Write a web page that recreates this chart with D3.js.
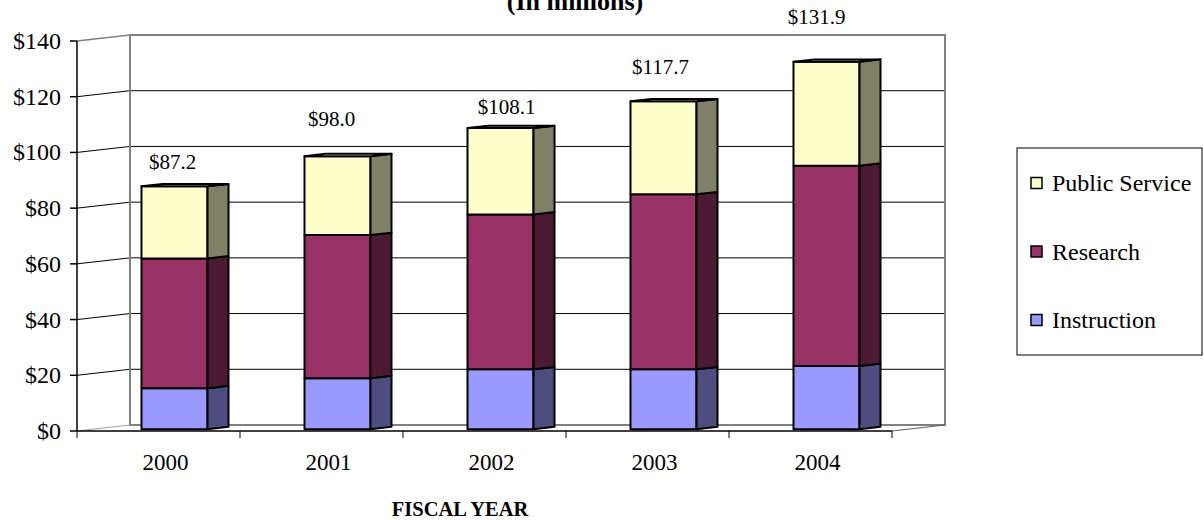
<!DOCTYPE html>
<html>
<head>
<meta charset="utf-8">
<script src="https://cdn.jsdelivr.net/npm/d3@7"></script>
<style>
  body { margin: 0; background: #fff; }
  text { font-family: "Liberation Serif", "Times New Roman", serif; fill: #000; }
</style>
</head>
<body>
<svg id="chart" width="1204" height="520"></svg>
<script>
// values (in millions)
const years = ["2000", "2001", "2002", "2003", "2004"]
const instruction = [14.7, 18.3, 21.5, 21.5, 22.7]
const research = [46.6, 51.4, 55.6, 62.8, 71.9]
const publicService = [25.9, 28.3, 31.0, 33.4, 37.3]
const totalLabels = ["$87.2", "$98.0", "$108.1", "$117.7", "$131.9"]
const yTicks = [0, 20, 40, 60, 80, 100, 120, 140]
const seriesNames = ["Instruction", "Research", "Public Service"]

// hand-placed total labels in the original (pixel nudges from bar top)
const labelLift = [17, 30, 14, 27, 38]
const labelShift = [-2, -6, 6, -3, -10]

const colors = {
  "Instruction": { front: "#9999FF", side: "#4D4D80" },
  "Research": { front: "#993366", side: "#4D1A33" },
  "Public Service": { front: "#FFFFCC", side: "#808066" }
}

const svg = d3.select("#chart")

// front plane of the plot
const pL = 77, pR = 892, pB = 431, pT = 41
// depth of the walls
const depth = { dx: 53, dy: -6 }
// bar sits in the middle of the depth
const barDepth = 21 / 53
const barStart = (1 - barDepth) / 2

const xCat = d3.scaleBand().domain(years).range([pL, pR]).padding(0)
const xBar = d3.scaleBand().domain(years).range([pL, pR])
  .paddingInner(0.595).paddingOuter(0.2975)
const y = d3.scaleLinear().domain([0, 140]).range([pB, pT])

// project a point into depth t (0 = front, 1 = back wall)
const P = (x, yy, t) => [x + depth.dx * t, yy + depth.dy * t]
const poly = pts => pts.map(p => p.join(",")).join(" ")

function txt(g, x, yy, s, size, anchor, weight) {
  return g.append("text")
    .attr("x", x).attr("y", yy)
    .attr("text-anchor", anchor || "start")
    .style("font-size", size + "px")
    .style("font-weight", weight || "normal")
    .text(s)
}

// walls
const walls = svg.append("g")
const backL = P(pL, pT, 1), backR = P(pR, pB, 1)
// gridlines on back wall
walls.selectAll(".grid")
  .data(yTicks.filter(d => d > 0 && d < 140))
  .enter().append("line")
  .attr("x1", backL[0]).attr("x2", backR[0])
  .attr("y1", d => y(d) + depth.dy).attr("y2", d => y(d) + depth.dy)
  .attr("stroke", "#000").attr("stroke-width", 1)
// gridline returns on left wall
walls.selectAll(".sidegrid")
  .data(yTicks.filter(d => d > 0 && d < 140))
  .enter().append("line")
  .attr("x1", pL).attr("y1", d => y(d))
  .attr("x2", pL + depth.dx).attr("y2", d => y(d) + depth.dy)
  .attr("stroke", "#000").attr("stroke-width", 1)
// wall outline
walls.append("rect")
  .attr("x", backL[0]).attr("y", backL[1])
  .attr("width", backR[0] - backL[0]).attr("height", backR[1] - backL[1])
  .attr("fill", "none").attr("stroke", "#808080").attr("stroke-width", 2)
walls.append("line")
  .attr("x1", pL).attr("y1", pT).attr("x2", backL[0]).attr("y2", backL[1])
  .attr("stroke", "#808080").attr("stroke-width", 1.5)
walls.append("line")
  .attr("x1", pL).attr("y1", pB).attr("x2", pL + depth.dx).attr("y2", pB + depth.dy)
  .attr("stroke", "#a0a0a0").attr("stroke-width", 1)
walls.append("line")
  .attr("x1", pR).attr("y1", pB).attr("x2", backR[0]).attr("y2", backR[1])
  .attr("stroke", "#606060").attr("stroke-width", 1)

// stacked bars
const table = years.map((yr, i) => ({
  year: yr,
  "Instruction": instruction[i],
  "Research": research[i],
  "Public Service": publicService[i]
}))
const stacked = d3.stack().keys(seriesNames)(table)

const bars = svg.append("g")
years.forEach((yr, i) => {
  const g = bars.append("g")
  const x0 = xBar(yr), x1 = x0 + xBar.bandwidth()
  stacked.forEach((layer, k) => {
    const c = colors[layer.key]
    const y0 = y(layer[i][0]), y1 = y(layer[i][1])
    // front
    g.append("polygon")
      .attr("points", poly([P(x0, y1, barStart), P(x1, y1, barStart), P(x1, y0, barStart), P(x0, y0, barStart)]))
      .attr("fill", c.front).attr("stroke", "#000").attr("stroke-width", 2).attr("stroke-linejoin", "round")
    // right side
    g.append("polygon")
      .attr("points", poly([P(x1, y1, barStart), P(x1, y1, barStart + barDepth), P(x1, y0, barStart + barDepth), P(x1, y0, barStart)]))
      .attr("fill", c.side).attr("stroke", "#000").attr("stroke-width", 2).attr("stroke-linejoin", "round")
    if (k === stacked.length - 1) {
      g.append("polygon")
        .attr("points", poly([P(x0, y1, barStart), P(x1, y1, barStart), P(x1, y1, barStart + barDepth), P(x0, y1, barStart + barDepth)]))
        .attr("fill", c.front).attr("stroke", "#000").attr("stroke-width", 2).attr("stroke-linejoin", "round")
    }
  })
  // total label
  const total = stacked[stacked.length - 1][i][1]
  const cx = P((x0 + x1) / 2, 0, barStart)[0]
  const ty = P(0, y(total), barStart)[1]
  txt(svg, cx + labelShift[i], ty - labelLift[i], totalLabels[i], 21, "middle")
})

// axes (front plane)
const ax = svg.append("g")
ax.append("line").attr("x1", pL).attr("x2", pL).attr("y1", pT).attr("y2", pB)
  .attr("stroke", "#000").attr("stroke-width", 1.5)
ax.append("line").attr("x1", pL).attr("x2", pR).attr("y1", pB).attr("y2", pB)
  .attr("stroke", "#000").attr("stroke-width", 1.5)
ax.selectAll(".ytick").data(yTicks).enter().append("line")
  .attr("x1", pL - 7).attr("x2", pL).attr("y1", d => y(d)).attr("y2", d => y(d))
  .attr("stroke", "#000").attr("stroke-width", 1.5)
yTicks.forEach(d => txt(ax, pL - 16, y(d) + 8, "$" + d, 24, "end"))

const bounds = years.map(yr => xCat(yr)).concat([pR])
ax.selectAll(".xtick").data(bounds).enter().append("line")
  .attr("x1", d => d).attr("x2", d => d).attr("y1", pB).attr("y2", pB + 7)
  .attr("stroke", "#000").attr("stroke-width", 1)
years.forEach(yr => txt(ax, xCat(yr) + xCat.bandwidth() / 2 + 7, 470, yr, 23, "middle"))

txt(svg, 460, 516, "FISCAL YEAR", 20.5, "middle", "bold")
txt(svg, 575, 10, "(In millions)", 26, "middle", "bold")

// legend
const lg = svg.append("g")
lg.append("rect").attr("x", 1017).attr("y", 148).attr("width", 185).attr("height", 207)
  .attr("fill", "#fff").attr("stroke", "#000").attr("stroke-width", 1)
seriesNames.slice().reverse().forEach((name, i) => {
  const cy = 183 + i * 68.5
  lg.append("rect").attr("x", 1031).attr("y", cy - 5.5).attr("width", 11).attr("height", 11)
    .attr("fill", colors[name].front).attr("stroke", "#000").attr("stroke-width", 1.5)
  txt(lg, 1052, cy + 8, name, 24, "start")
})
</script>
</body>
</html>
